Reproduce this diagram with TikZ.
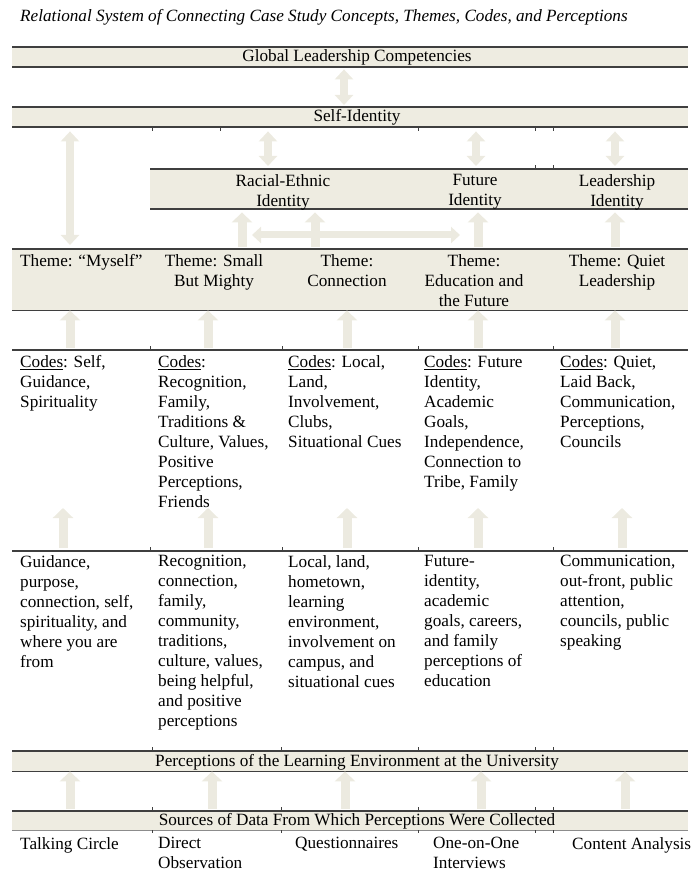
\documentclass[tikz,border=0pt]{standalone}
\usepackage{fontspec}
\setmainfont{Liberation Serif}
\usetikzlibrary{arrows.meta,calc}
\definecolor{beige}{HTML}{EEECE1}
\definecolor{arrowbeige}{HTML}{ECEAE0}
\definecolor{rulegray}{HTML}{3F3F3F}
\begin{document}
\begin{tikzpicture}[x=1pt,y=-1pt,
  font=\fontsize{17.2}{20}\selectfont,
  bar/.style={fill=beige, draw=none, inner sep=0pt, anchor=north west},
  lbl/.style={inner sep=0pt, text height=12pt, text depth=2pt},
  rule/.style={draw=rulegray, line width=1.8pt},
  tickmark/.style={draw=rulegray, line width=0.6pt},
  ltxt/.style={inner sep=0pt, anchor=north west, align=left},
  ctxt/.style={inner sep=0pt, anchor=north, align=center},
  fatup/.style={draw=arrowbeige, line width=9pt, -{Triangle[width=20pt,length=10pt]}},
  fatboth/.style={draw=arrowbeige, line width=8pt, {Triangle[width=18pt,length=10pt]}-{Triangle[width=18pt,length=10pt]}},
  fathoriz/.style={draw=arrowbeige, line width=7pt, {Triangle[width=16pt,length=9pt]}-{Triangle[width=16pt,length=9pt]}}
]
\useasboundingbox (0,0) rectangle (690,890);
\clip (0,0) rectangle (690,890);

% title
\node[inner sep=0pt, anchor=west, font=\fontsize{17.2}{20}\selectfont\itshape] (title) at (20,17)
  {Relational System of Connecting Case Study Concepts, Themes, Codes, and Perceptions};

% bars
\node[bar, minimum width=676pt, minimum height=20pt] (glob) at (12,47) {};
\node[bar, minimum width=676pt, minimum height=20pt] (self) at (12,107) {};
\node[bar, minimum width=538pt, minimum height=40pt] (ident) at (150,169) {};
\node[bar, minimum width=676pt, minimum height=61pt] (theme) at (12,249) {};
\node[bar, minimum width=676pt, minimum height=20pt] (perc) at (12,751) {};
\node[bar, minimum width=676pt, minimum height=19pt] (src) at (12,811) {};
\coordinate (codestop) at (12,350);
\coordinate (codesend) at (688,350);
\coordinate (datatop) at (12,551);
\coordinate (dataend) at (688,551);
\coordinate (codesbot) at (12,508);

% rules
\foreach \b in {glob,self,ident,theme,perc} {
  \draw[rule] (\b.north west) -- (\b.north east);
  \draw[rule] (\b.south west) -- (\b.south east);
}
\draw[rule] (src.north west) -- (src.north east);
\draw[draw=rulegray!60, line width=0.8pt] (src.south west) -- (src.south east);
\draw[rule] (codestop) -- (codesend);
\draw[rule] (datatop) -- (dataend);

% small column ticks
\foreach \x in {152,220,418,535,553} {
  \draw[tickmark] (\x,127) -- (\x,131);
}
\foreach \x in {535,553} {
  \draw[tickmark] (\x,169) -- (\x,165);
}
\foreach \x in {150,282,418,553} {
  \draw[tickmark] (\x,350) -- (\x,346);
  \draw[tickmark] (\x,551) -- (\x,547);
}
\foreach \x in {152,281,418,535,553} {
  \draw[tickmark] (\x,751) -- (\x,747);
  \draw[tickmark] (\x,811) -- (\x,807);
  \draw[tickmark] (\x,830) -- (\x,833);
}

% bar labels
\node[lbl] (globt) at (357,57) {Global Leadership Competencies};
\node[lbl] (selft) at (357,117) {Self-Identity};
\node[lbl] (perct) at (357,761) {Perceptions of the Learning Environment at the University};
\node[lbl] (srct) at (357,820.5) {Sources of Data From Which Perceptions Were Collected};

% identity texts
\node[ctxt] (id1) at (283,174) {Racial-Ethnic\\Identity};
\node[ctxt] (id2) at (475,174) {Future\\Identity};
\node[ctxt] (id3) at (617,174) {Leadership\\Identity};

% theme texts
\node[ltxt] (th1) at (20,254) {Theme: “Myself”};
\node[ctxt] (th2) at (214,254) {Theme: Small\\But Mighty};
\node[ctxt] (th3) at (347,254) {Theme:\\Connection};
\node[ctxt] (th4) at (474,254) {Theme:\\Education and\\the Future};
\node[ctxt] (th5) at (617,254) {Theme: Quiet\\Leadership};

% codes texts
\node[ltxt] (cd1) at (20,355) {\underline{Codes}: Self,\\Guidance,\\Spirituality};
\node[ltxt] (cd2) at (158,355) {\underline{Codes}:\\Recognition,\\Family,\\Traditions \&\\Culture, Values,\\Positive\\Perceptions,\\Friends};
\node[ltxt] (cd3) at (288,355) {\underline{Codes}: Local,\\Land,\\Involvement,\\Clubs,\\Situational Cues};
\node[ltxt] (cd4) at (424,355) {\underline{Codes}: Future\\Identity,\\Academic\\Goals,\\Independence,\\Connection to\\Tribe, Family};
\node[ltxt] (cd5) at (560,355) {\underline{Codes}: Quiet,\\Laid Back,\\Communication,\\Perceptions,\\Councils};

% data texts
\node[ltxt] (dt1) at (20,555) {Guidance,\\purpose,\\connection, self,\\spirituality, and\\where you are\\from};
\node[ltxt] (dt2) at (158,555) {Recognition,\\connection,\\family,\\community,\\traditions,\\culture, values,\\being helpful,\\and positive\\perceptions};
\node[ltxt] (dt3) at (288,555) {Local, land,\\hometown,\\learning\\environment,\\involvement on\\campus, and\\situational cues};
\node[ltxt] (dt4) at (424,555) {Future-\\identity,\\academic\\goals, careers,\\and family\\perceptions of\\education};
\node[ltxt] (dt5) at (560,555) {Communication,\\out-front, public\\attention,\\councils, public\\speaking};

% sources labels
\node[ltxt] (s1) at (20,837) {Talking Circle};
\node[ltxt] (s2) at (158,837) {Direct\\Observation};
\node[ltxt] (s3) at (295,837) {Questionnaires};
\node[ltxt] (s4) at (433,837) {One-on-One\\Interviews};
\node[ltxt] (s5) at (572,837) {Content Analysis};

% arrow x positions
\foreach \n/\x in {a344/344,a70/70,a268/268,a476/476,a615/615,a242/242,a315/315,a478/478,
                   a208/208,a347/347,a63/63,a622/622,a212/212,a345/345,a481/481,a625/625} {
  \coordinate (\n) at (\x,0);
}
\coordinate (hl) at (252,235);
\coordinate (hr) at (460,235);

% arrows
\draw[fatboth, shorten <=2pt, shorten >=2pt] (a344 |- glob.south) -- (a344 |- self.north);
\draw[fatboth, shorten <=4pt, shorten >=4pt] (a70 |- self.south) -- (a70 |- theme.north);
\foreach \a in {a268,a476,a615}
  \draw[fatboth, shorten <=4pt, shorten >=3pt] (\a |- self.south) -- (\a |- ident.north);
\foreach \a in {a242,a315,a478,a615}
  \draw[fatup, shorten <=2pt, shorten >=3pt] (\a |- theme.north) -- (\a |- ident.south);
\draw[fathoriz] (hl) -- (hr);
\foreach \a in {a70,a208,a347,a478,a615}
  \draw[fatup, shorten <=2pt] (\a |- codestop) -- (\a |- theme.south);
\foreach \a in {a63,a208,a347,a478,a622}
  \draw[fatup, shorten <=3pt] (\a |- datatop) -- (\a |- codesbot);
\foreach \a in {a70,a212,a345,a481,a625}
  \draw[fatup, shorten <=2pt] (\a |- src.north) -- (\a |- perc.south);
\end{tikzpicture}
\end{document}
